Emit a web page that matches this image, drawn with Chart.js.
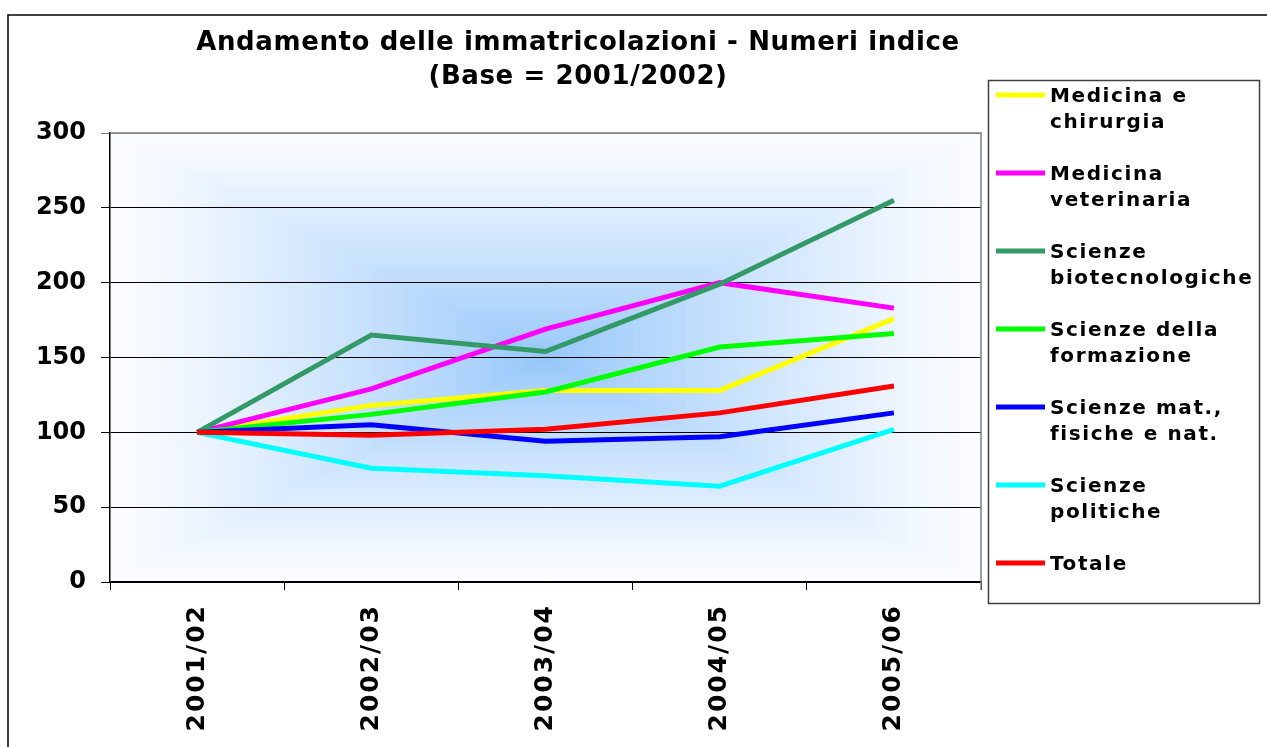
<!DOCTYPE html>
<html>
<head>
<meta charset="utf-8">
<script src="https://cdn.jsdelivr.net/npm/chart.js@4.4.1/dist/chart.umd.min.js"></script>
<style>
  html, body { margin: 0; padding: 0; background: #ffffff; }
  #wrap { width: 1267px; height: 747px; position: relative; }
</style>
</head>
<body>
<div id="wrap"><canvas id="c" width="1267" height="747"></canvas></div>
<script>
// ---- data ----
const titleLines = ['Andamento delle immatricolazioni - Numeri indice', '(Base = 2001/2002)'];
const categories = ['2001/02', '2002/03', '2003/04', '2004/05', '2005/06'];
const medicinaChirurgia   = [100, 118, 128, 128, 176];
const medicinaVeterinaria = [100, 129, 169, 200, 183];
const scienzeBiotec       = [100, 165, 154, 199, 255];
const scienzeFormazione   = [100, 112, 127, 157, 166];
const scienzeMatFis       = [100, 105, 94, 97, 113];
const scienzePolitiche    = [100, 76, 71, 64, 102];
const totale              = [100, 98, 102, 113, 131];
const yTicks = [0, 50, 100, 150, 200, 250, 300];

const seriesLabels = [
  ['Medicina e', 'chirurgia'],
  ['Medicina', 'veterinaria'],
  ['Scienze', 'biotecnologiche'],
  ['Scienze della', 'formazione'],
  ['Scienze mat.,', 'fisiche e nat.'],
  ['Scienze', 'politiche'],
  ['Totale']
];
const seriesValues = [medicinaChirurgia, medicinaVeterinaria, scienzeBiotec, scienzeFormazione, scienzeMatFis, scienzePolitiche, totale];
const seriesColors = ['#FFFF00', '#FF00FF', '#339966', '#00FF00', '#0000FF', '#00FFFF', '#FF0000'];

const FONT = '"DejaVu Sans", Verdana, sans-serif';

const datasets = seriesValues.map((vals, i) => ({
  label: seriesLabels[i].join(' '),
  legendLines: seriesLabels[i],
  data: vals,
  borderColor: seriesColors[i],
  backgroundColor: seriesColors[i],
  borderWidth: 5,
  pointRadius: 0,
  pointHoverRadius: 0,
  tension: 0,
  fill: false,
  borderJoinStyle: 'miter',
  borderCapStyle: 'butt',
  order: seriesValues.length - i
}));

function lerp(a, b, t) { return a + (b - a) * t; }

const backgroundPlugin = {
  id: 'bg',
  beforeDraw(chart) {
    const ctx = chart.ctx;
    const a = chart.chartArea;
    ctx.save();
    // outer frame
    ctx.strokeStyle = '#000';
    ctx.lineWidth = 1.5;
    ctx.beginPath();
    ctx.moveTo(1267, 15);
    ctx.lineTo(8, 15);
    ctx.lineTo(8, 747);
    ctx.stroke();
    // plot area rectangular "from center" gradient
    const cx = (a.left + a.right) / 2, cy = (a.top + a.bottom) / 2;
    const hw = (a.right - a.left) / 2, hh = (a.bottom - a.top) / 2;
    ctx.fillStyle = '#FBFCFF';
    ctx.fillRect(a.left, a.top, a.right - a.left, a.bottom - a.top);
    const outer = [251, 252, 255], edge = [243, 248, 255], center = [148, 198, 250];
    const N = 160, tMax = 0.87;
    for (let k = N; k >= 0; k--) {
      const t = k / N;
      let col;
      if (t > tMax) {
        const s = (t - tMax) / (1 - tMax);
        col = outer.map((v, j) => Math.round(lerp(edge[j], v, s)));
      } else {
        const s = Math.pow(t / tMax, 0.85);
        col = center.map((v, j) => Math.round(lerp(v, edge[j], s)));
      }
      ctx.fillStyle = `rgb(${col[0]},${col[1]},${col[2]})`;
      ctx.fillRect(cx - hw * t, cy - hh * t, 2 * hw * t, 2 * hh * t);
    }
    ctx.restore();
  },
  beforeDatasetsDraw(chart) {
    const ctx = chart.ctx;
    const a = chart.chartArea;
    ctx.save();
    ctx.strokeStyle = '#808080';
    ctx.lineWidth = 1.5;
    ctx.beginPath();
    ctx.moveTo(a.left, a.top);
    ctx.lineTo(a.right, a.top);
    ctx.lineTo(a.right, a.bottom + 8);
    ctx.stroke();
    ctx.restore();
  },
  afterDraw(chart) {
    const ctx = chart.ctx;
    ctx.save();
    // title
    ctx.fillStyle = '#000';
    ctx.textAlign = 'center';
    ctx.textBaseline = 'middle';
    ctx.font = 'bold 26px ' + FONT;
    ctx.letterSpacing = '0.6px';
    ctx.fillText(titleLines[0], 578, 43);
    ctx.fillText(titleLines[1], 578, 77);
    // legend
    ctx.letterSpacing = '1.6px';
    ctx.strokeStyle = '#404040';
    ctx.lineWidth = 1.5;
    ctx.strokeRect(988.5, 80.5, 271, 523);
    ctx.textAlign = 'left';
    ctx.font = 'bold 20px ' + FONT;
    chart.data.datasets.forEach((ds, i) => {
      const y0 = 95 + 78 * i;
      ctx.strokeStyle = ds.borderColor;
      ctx.lineWidth = 5;
      ctx.beginPath();
      ctx.moveTo(996, y0);
      ctx.lineTo(1045, y0);
      ctx.stroke();
      ctx.fillStyle = '#000';
      ds.legendLines.forEach((line, j) => ctx.fillText(line, 1050, y0 + 2 + 26 * j));
    });
    ctx.restore();
  }
};

new Chart(document.getElementById('c'), {
  type: 'line',
  data: { labels: categories, datasets },
  options: {
    responsive: false,
    animation: false,
    devicePixelRatio: 1,
    layout: { padding: { left: 0, right: 286, top: 133, bottom: 0 } },
    plugins: {
      legend: { display: false },
      title: { display: false },
      tooltip: { enabled: false }
    },
    scales: {
      x: {
        offset: true,
        grid: {
          offset: true,
          drawOnChartArea: false,
          drawTicks: true,
          tickLength: 8,
          color: '#000',
          lineWidth: 1
        },
        border: { display: true, color: '#000', width: 1.5 },
        ticks: {
          autoSkip: false,
          minRotation: 90,
          maxRotation: 90,
          padding: 14,
          color: '#000',
          font: { family: FONT, size: 25, weight: 'bold' }
        },
        afterFit(scale) {
          scale.height = 165;
          if (!scale._spaced) {
            const orig = scale.drawLabels;
            scale.drawLabels = function (area) {
              this.ctx.save();
              this.ctx.letterSpacing = '2px';
              orig.call(this, area);
              this.ctx.restore();
            };
            scale._spaced = true;
          }
        }
      },
      y: {
        min: 0,
        max: 300,
        afterBuildTicks(scale) { scale.ticks = yTicks.map(v => ({ value: v })); },
        grid: {
          color: (c) => (c.tick && c.tick.value === 300) ? '#808080' : '#000',
          lineWidth: 1,
          tickLength: 9,
          drawTicks: true
        },
        border: { display: true, color: '#000', width: 1.5 },
        ticks: {
          padding: 15,
          color: '#000',
          font: { family: FONT, size: 24, weight: 'bold' }
        },
        afterFit(scale) { scale.width = 110; }
      }
    }
  },
  plugins: [backgroundPlugin]
});
</script>
</body>
</html>
